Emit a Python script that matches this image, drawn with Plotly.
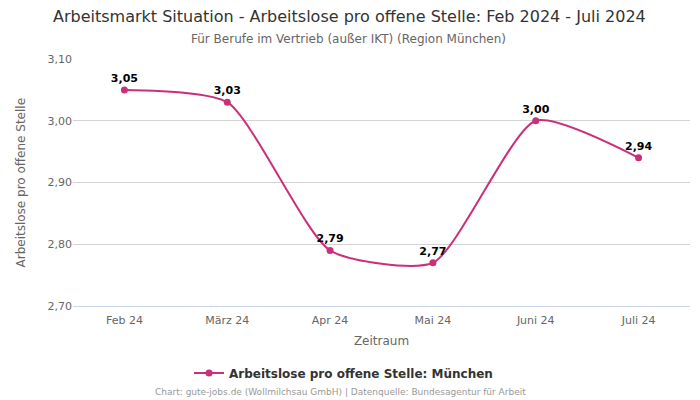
import plotly.graph_objects as go

categories = ["Feb 24", "März 24", "Apr 24", "Mai 24", "Juni 24", "Juli 24"]
values = [3.05, 3.03, 2.79, 2.77, 3.00, 2.94]
labels = ["3,05", "3,03", "2,79", "2,77", "3,00", "2,94"]
y_ticks = [2.70, 2.80, 2.90, 3.00, 3.10]
y_tick_labels = ["2,70", "2,80", "2,90", "3,00", "3,10"]

color = "#cc2f7a"
font = "DejaVu Sans, sans-serif"

fig = go.Figure()
fig.add_trace(go.Scatter(
    x=categories, y=values,
    mode="lines+markers+text",
    line=dict(color=color, width=2, shape="spline", smoothing=0.6),
    marker=dict(color=color, size=7),
    text=labels, textposition="top center",
    textfont=dict(family=font, size=11, color="#000000", weight="bold"),
    name="Arbeitslose pro offene Stelle: München",
    cliponaxis=False,
))

L, R, T, B = 65, 18, 51, 102
W = 700 - L - R
H = 400 - T - B
fig.update_layout(
    width=700, height=400,
    paper_bgcolor="white", plot_bgcolor="white",
    margin=dict(l=L, r=R, t=T, b=B, autoexpand=False),
    font=dict(family=font, color="#666666", size=11),
    showlegend=True,
    legend=dict(
        orientation="h", xref="container", x=(343.5 - 8) / 700, xanchor="center",
        y=-67 / H, yanchor="middle",
        font=dict(family=font, size=12, color="#333333", weight="bold"),
    ),
    xaxis=dict(
        title=dict(text="Zeitraum", font=dict(size=12, color="#666666"), standoff=10),
        range=[-0.5, 5.5],
        showgrid=False, showline=True, linecolor="#ccd6eb", linewidth=1,
        ticks="outside", ticklen=4, tickcolor="rgba(0,0,0,0)", automargin=False,
        tickfont=dict(size=11, color="#666666"),
    ),
    yaxis=dict(
        range=[2.70, 3.10], tickvals=y_ticks, ticktext=y_tick_labels, automargin=False,
        showgrid=True, gridcolor="#d3d3d3", gridwidth=1, zeroline=False,
        tickfont=dict(size=11, color="#666666"),
    ),
    annotations=[
        dict(text="Arbeitsmarkt Situation - Arbeitslose pro offene Stelle: Feb 2024 - Juli 2024",
             x=(349 - 8 - L) / W, xref="paper", xanchor="center",
             y=1 + (59 - 17) / H, yref="paper", yanchor="middle",
             showarrow=False, font=dict(size=16, color="#333333")),
        dict(text="Für Berufe im Vertrieb (außer IKT) (Region München)",
             x=(348.5 - 8 - L) / W, xref="paper", xanchor="center",
             y=1 + (59 - 39) / H, yref="paper", yanchor="middle",
             showarrow=False, font=dict(size=12, color="#666666")),
        dict(text="Arbeitslose pro offene Stelle", textangle=-90,
             x=(20 - 8 - L) / W, xref="paper", xanchor="center",
             y=0.5, yref="paper", yanchor="middle",
             showarrow=False, font=dict(size=12, color="#666666")),
        dict(text="Chart: gute-jobs.de (Wollmilchsau GmbH) | Datenquelle: Bundesagentur für Arbeit",
             x=(340 - 8 - L) / W, xref="paper", xanchor="center",
             y=-86 / H, yref="paper", yanchor="middle",
             showarrow=False, font=dict(size=9, color="#999999")),
    ],
)
fig.write_html("out.html")
